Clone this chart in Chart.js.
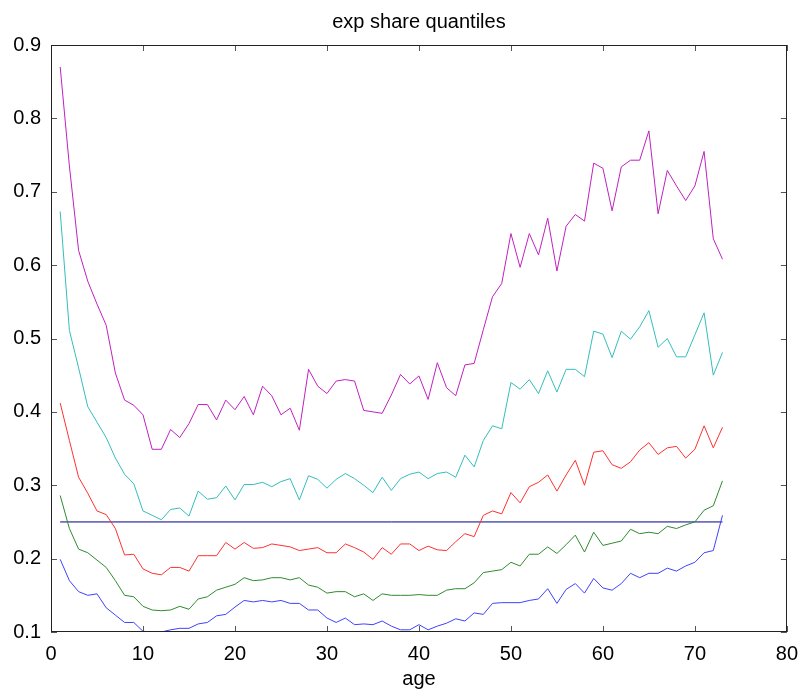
<!DOCTYPE html>
<html>
<head>
<meta charset="utf-8">
<title>exp share quantiles</title>
<script src="https://cdn.jsdelivr.net/npm/chart.js@4.4.1/dist/chart.umd.min.js"></script>
<style>
  html, body { margin: 0; padding: 0; background: #fff; }
  #wrap { width: 808px; height: 691px; }
</style>
</head>
<body>
<div id="wrap"><canvas id="myChart" width="808" height="691"></canvas></div>
<script>
// ages on the x axis
const ages = [
  1, 2, 3, 4, 5, 6, 7, 8, 9, 10, 11, 12, 13, 14, 15, 16, 17, 18, 19, 20,
  21, 22, 23, 24, 25, 26, 27, 28, 29, 30, 31, 32, 33, 34, 35, 36, 37, 38, 39, 40,
  41, 42, 43, 44, 45, 46, 47, 48, 49, 50, 51, 52, 53, 54, 55, 56, 57, 58, 59, 60,
  61, 62, 63, 64, 65, 66, 67, 68, 69, 70, 71, 72, 73
];

// quantile series (top to bottom)
const magentaQ = [
  0.870, 0.735, 0.620, 0.578, 0.547, 0.518, 0.453, 0.416, 0.409, 0.396,
  0.349, 0.349, 0.376, 0.365, 0.384, 0.410, 0.410, 0.389, 0.416, 0.403,
  0.421, 0.396, 0.435, 0.422, 0.396, 0.405, 0.375, 0.458, 0.435, 0.425,
  0.442, 0.444, 0.442, 0.402, 0.400, 0.398, 0.423, 0.451, 0.438, 0.449,
  0.417, 0.467, 0.433, 0.422, 0.464, 0.466, 0.512, 0.557, 0.575, 0.643,
  0.597, 0.643, 0.614, 0.664, 0.592, 0.653, 0.669, 0.660, 0.739, 0.732,
  0.674, 0.734, 0.743, 0.743, 0.783, 0.670, 0.729, 0.708, 0.688, 0.708,
  0.755, 0.636, 0.608
];
const cyanQ = [
  0.673, 0.511, 0.460, 0.407, 0.386, 0.365, 0.337, 0.315, 0.302, 0.265,
  0.259, 0.253, 0.267, 0.269, 0.258, 0.292, 0.281, 0.283, 0.299, 0.280,
  0.301, 0.301, 0.304, 0.298, 0.305, 0.309, 0.280, 0.313, 0.308, 0.296,
  0.308, 0.316, 0.309, 0.300, 0.290, 0.311, 0.293, 0.309, 0.315, 0.318,
  0.309, 0.316, 0.318, 0.311, 0.341, 0.325, 0.361, 0.381, 0.377, 0.440,
  0.431, 0.444, 0.425, 0.456, 0.427, 0.458, 0.458, 0.448, 0.510, 0.506,
  0.474, 0.510, 0.499, 0.516, 0.538, 0.488, 0.500, 0.475, 0.475, 0.505,
  0.535, 0.450, 0.481
];
const redQ = [
  0.412, 0.361, 0.311, 0.289, 0.265, 0.260, 0.241, 0.205, 0.206, 0.186,
  0.180, 0.178, 0.188, 0.188, 0.183, 0.204, 0.204, 0.204, 0.222, 0.213,
  0.222, 0.214, 0.215, 0.220, 0.218, 0.216, 0.211, 0.213, 0.215, 0.208,
  0.208, 0.220, 0.215, 0.209, 0.199, 0.215, 0.206, 0.220, 0.220, 0.211,
  0.217, 0.212, 0.211, 0.223, 0.234, 0.230, 0.259, 0.265, 0.261, 0.290,
  0.276, 0.298, 0.304, 0.314, 0.292, 0.314, 0.334, 0.300, 0.345, 0.347,
  0.328, 0.323, 0.332, 0.348, 0.358, 0.342, 0.351, 0.353, 0.337, 0.349,
  0.381, 0.351, 0.379
];
const greenQ = [
  0.286, 0.241, 0.213, 0.208, 0.198, 0.188, 0.170, 0.150, 0.148, 0.135,
  0.130, 0.129, 0.130, 0.135, 0.131, 0.145, 0.148, 0.157, 0.161, 0.165,
  0.174, 0.170, 0.171, 0.174, 0.174, 0.171, 0.174, 0.164, 0.161, 0.153,
  0.155, 0.155, 0.148, 0.152, 0.143, 0.152, 0.150, 0.150, 0.150, 0.151,
  0.150, 0.150, 0.157, 0.159, 0.159, 0.167, 0.181, 0.183, 0.185, 0.195,
  0.190, 0.206, 0.206, 0.216, 0.207, 0.219, 0.232, 0.209, 0.236, 0.218,
  0.221, 0.224, 0.240, 0.234, 0.236, 0.234, 0.244, 0.241, 0.246, 0.250,
  0.266, 0.272, 0.306
];
const blueQ = [
  0.199, 0.170, 0.155, 0.150, 0.152, 0.133, 0.123, 0.113, 0.113, 0.101,
  0.100, 0.100, 0.103, 0.105, 0.105, 0.111, 0.113, 0.122, 0.124, 0.134,
  0.143, 0.141, 0.143, 0.141, 0.143, 0.139, 0.139, 0.130, 0.130, 0.119,
  0.113, 0.119, 0.110, 0.111, 0.110, 0.115, 0.108, 0.103, 0.103, 0.110,
  0.103, 0.108, 0.112, 0.118, 0.115, 0.126, 0.124, 0.139, 0.140, 0.140,
  0.140, 0.143, 0.145, 0.159, 0.139, 0.158, 0.166, 0.153, 0.173, 0.160,
  0.157, 0.166, 0.180, 0.174, 0.180, 0.180, 0.187, 0.183, 0.190, 0.195,
  0.208, 0.211, 0.259
];

// horizontal reference line
const refX = [1, 73];
const refY = [0.25, 0.25];

// tick labels
const xTicks = [0, 10, 20, 30, 40, 50, 60, 70, 80];
const yTicks = [0.1, 0.2, 0.3, 0.4, 0.5, 0.6, 0.7, 0.8, 0.9];

const FONT = 'Liberation Sans, Arial, sans-serif';

const toPoints = (xs, ys) => xs.map((x, i) => ({x: x, y: ys[i]}));

const lineSet = (data, color) => ({
    data: toPoints(ages, data),
    borderColor: color,
    borderWidth: 1,
    pointRadius: 0,
    tension: 0,
    fill: false
});

// box round the plot with inward tick marks on all four sides
const frameTicks = {
    id: 'frameTicks',
    afterDatasetsDraw(chart) {
        const {ctx, chartArea: a, scales: {x, y}} = chart;
        ctx.save();
        ctx.lineWidth = 1;
        ctx.strokeStyle = '#555';
        ctx.beginPath();
        xTicks.forEach(v => {
            const px = Math.round(x.getPixelForValue(v)) + 0.5;
            ctx.moveTo(px, a.bottom);
            ctx.lineTo(px, a.bottom - 6);
            ctx.moveTo(px, a.top);
            ctx.lineTo(px, a.top + 6);
        });
        yTicks.forEach(v => {
            const py = Math.round(y.getPixelForValue(v)) + 0.5;
            ctx.moveTo(a.left, py);
            ctx.lineTo(a.left + 6, py);
            ctx.moveTo(a.right, py);
            ctx.lineTo(a.right - 6, py);
        });
        ctx.stroke();
        ctx.strokeStyle = '#222';
        ctx.strokeRect(Math.round(a.left) + 0.5, Math.round(a.top) + 0.5,
            Math.round(a.width) - 1, Math.round(a.height) - 1);
        ctx.restore();
    }
};

const ctx = document.getElementById('myChart').getContext('2d');

new Chart(ctx, {
    type: 'line',
    data: {
        datasets: [
            lineSet(magentaQ, '#c020c0'),
            lineSet(cyanQ, '#33bdbd'),
            lineSet(redQ, '#ff3030'),
            lineSet(greenQ, '#2f8a2f'),
            lineSet(blueQ, '#4040ff'),
            {
                data: toPoints(refX, refY),
                borderColor: '#00008b',
                borderWidth: 1,
                pointRadius: 0,
                fill: false
            }
        ]
    },
    options: {
        responsive: false,
        animation: false,
        devicePixelRatio: 1,
        layout: {padding: {left: 0, right: 14, top: 0, bottom: 0}},
        plugins: {
            legend: {display: false},
            tooltip: {enabled: false},
            title: {display: false}
        },
        scales: {
            x: {
                type: 'linear',
                min: 0,
                max: 80,
                afterBuildTicks: s => { s.ticks = xTicks.map(v => ({value: v})); },
                afterFit: s => { s.height = 59; },
                grid: {display: false, drawTicks: false},
                border: {display: false},
                ticks: {
                    color: '#000',
                    padding: 10,
                    maxRotation: 0,
                    font: {family: FONT, size: 20}
                },
                title: {
                    display: true,
                    text: 'age',
                    color: '#000',
                    font: {family: FONT, size: 20},
                    padding: {top: 0, bottom: 0}
                }
            },
            top: {
                type: 'linear',
                position: 'top',
                min: 0,
                max: 80,
                afterFit: s => { s.height = 45; },
                grid: {display: false, drawTicks: false},
                border: {display: false},
                ticks: {display: false},
                title: {
                    display: true,
                    text: 'exp share quantiles',
                    color: '#000',
                    font: {family: FONT, size: 20},
                    padding: {top: 10, bottom: 0}
                }
            },
            y: {
                type: 'linear',
                min: 0.1,
                max: 0.9,
                afterBuildTicks: s => { s.ticks = yTicks.map(v => ({value: v})); },
                afterFit: s => { s.width = 51; },
                grid: {display: false, drawTicks: false},
                border: {display: false},
                ticks: {
                    color: '#000',
                    padding: 10,
                    font: {family: FONT, size: 20},
                    callback: v => v.toFixed(1)
                }
            }
        }
    },
    plugins: [frameTicks]
});
</script>
</body>
</html>
